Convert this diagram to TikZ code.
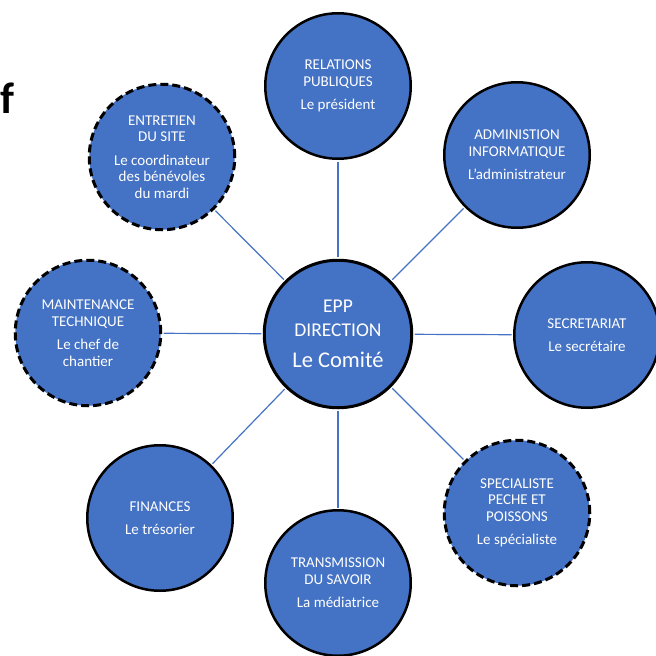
\documentclass[tikz,border=0pt]{standalone}
\usepackage{fontspec}
\setmainfont{Carlito}
\usetikzlibrary{shapes}

\definecolor{eppblue}{HTML}{4472C4}

\begin{document}
\begin{tikzpicture}[x=1pt,y=-1pt,
        pole/.style={shape=circle,draw=black,fill=eppblue,line width=2.5pt,minimum size=145.5pt,inner sep=0pt,text=white,align=center,font=\fontsize{15}{16.5}\selectfont},
        benevole/.style={pole,line width=3pt,dash pattern=on 8pt off 4pt},
        lien/.style={draw=eppblue,line width=1.2pt,shorten <=1.5pt,shorten >=1.5pt}]
            \useasboundingbox (0,0) rectangle (656,656);
            \node[anchor=base west,inner sep=0pt,font=\fontsize{44}{44}\selectfont\bfseries](Titre)at(0, 113){f};
            \node[pole,minimum size=147.5pt,line width=3pt,font=\fontsize{19.5}{24}\selectfont](Direction)at(338, 334){EPP\\DIRECTION\\[7pt]{\fontsize{22.5}{27}\selectfont Le Comité}};
            \node[pole](Relations)at(338, 86){RELATIONS\\PUBLIQUES\\[7pt]Le président};
            \node[pole](Admin)at(517, 155){ADMINISTION\\INFORMATIQUE\\[7pt]L'administrateur};
            \node[pole](Secretariat)at(587, 335){SECRETARIAT\\[7pt]Le secrétaire};
            \node[benevole](Specialiste)at(517, 513){SPECIALISTE\\PECHE ET\\POISSONS\\[7pt]Le spécialiste};
            \node[pole](Transmission)at(338, 583){TRANSMISSION\\DU SAVOIR\\[7pt]La médiatrice};
            \node[pole](Finances)at(160, 518){FINANCES\\[7pt]Le trésorier};
            \node[benevole](Maintenance)at(88, 333){MAINTENANCE\\TECHNIQUE\\[7pt]Le chef de\\chantier};
            \node[benevole](Entretien)at(162, 157){ENTRETIEN\\DU SITE\\[7pt]Le coordinateur\\des bénévoles\\du mardi};
            \path[lien](Direction) edge (Relations)
            (Direction) edge (Admin)
            (Direction) edge (Secretariat)
            (Direction) edge (Specialiste)
            (Direction) edge (Transmission)
            (Direction) edge (Finances)
            (Direction) edge (Maintenance)
            (Direction) edge (Entretien);
        \end{tikzpicture}
\end{document}
